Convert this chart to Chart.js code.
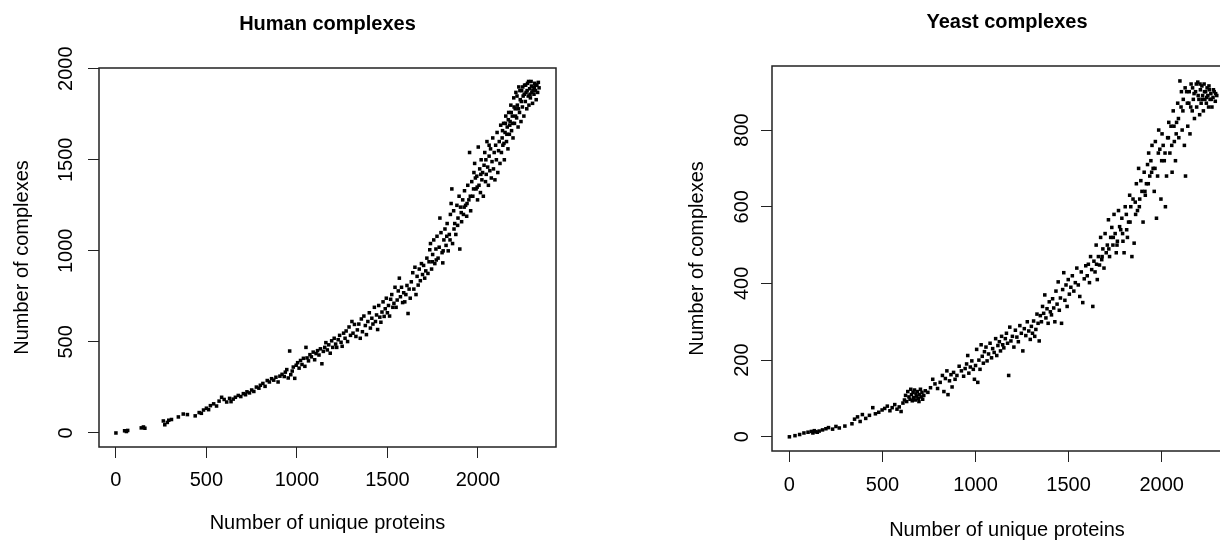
<!DOCTYPE html>
<html>
<head>
<meta charset="utf-8">
<script src="https://cdn.jsdelivr.net/npm/chart.js@4/dist/chart.umd.min.js"></script>
<style>
  html, body { margin: 0; padding: 0; background: #fff; }
  body { position: relative; width: 1220px; height: 540px; overflow: hidden; }
  canvas { position: absolute; top: 0; }
  #humanChart { left: 0; }
  #yeastChart { left: 650px; }
</style>
</head>
<body>
<canvas id="humanChart" width="600" height="540"></canvas>
<canvas id="yeastChart" width="610" height="540"></canvas>
<script>
// tick labels
const xTicks = [0, 500, 1000, 1500, 2000];
const humanYTicks = [0, 500, 1000, 1500, 2000];
const yeastYTicks = [0, 200, 400, 600, 800];

// [unique proteins, complexes]
const humanPoints = [
  [0,0],[48,12],[58,8],[65,14],[140,28],[152,33],[160,26],[262,66],[270,45],[284,58],[292,70],[307,74],
  [345,88],[372,104],[395,101],[438,94],[460,112],[472,108],[484,126],[500,136],[512,128],[522,150],
  [540,160],[556,148],[570,175],[584,196],[598,184],[612,170],[628,190],[636,172],[648,186],[660,196],
  [676,206],[690,200],[704,216],[716,210],[724,226],[738,220],[750,236],[762,228],[776,252],[790,246],
  [798,262],[812,272],[824,256],[836,288],[848,280],
  [860,298],[872,290],[884,306],[896,280],[906,312],[918,322],[930,310],[936,334],[944,348],[952,302],
  [960,450],[966,320],[974,340],[980,362],[988,300],[996,372],[1004,386],[1012,356],[1020,398],[1028,376],
  [1036,410],[1044,366],
  [1050,470],[1056,412],[1064,396],[1072,430],[1080,418],[1090,444],[1098,402],[1106,436],[1114,452],
  [1122,428],[1130,462],[1138,380],[1146,448],[1154,470],[1160,496],[1168,456],[1176,484],[1184,438],
  [1192,506],[1198,470],[1206,520],[1214,488],[1220,470],[1228,512],[1236,536],[1244,498],[1250,476],
  [1258,548],[1266,520],[1272,560],[1280,502],[1288,582],[1296,536],[1304,612],[1310,548],[1318,596],
  [1326,530],[1334,566],[1342,598],[1350,520],
  [1356,626],[1362,556],[1370,642],[1378,590],[1384,540],[1392,612],[1400,660],[1406,576],[1414,630],
  [1420,598],[1428,690],[1434,612],[1440,648],[1446,568],[1452,700],[1458,636],[1464,608],[1470,664],
  [1476,720],[1482,640],[1488,682],[1494,740],[1500,660],[1506,700],[1512,642],[1518,734],[1524,760],
  [1530,690],[1536,712],[1542,800],[1548,690],[1554,730],[1560,780],[1566,850],[1572,748],[1578,800],
  [1584,716],[1590,770],[1596,720],[1602,760],[1608,810],[1614,656],[1620,790],[1626,740],[1632,830],
  [1640,880],[1646,790],[1652,910],
  [1658,760],[1664,860],[1670,812],[1676,900],[1682,836],[1688,930],[1694,870],[1700,920],[1706,850],
  [1712,890],[1718,960],[1724,876],[1730,940],[1734,1006],[1738,1040],[1744,900],[1750,980],[1756,1060],
  [1762,930],[1768,1010],[1774,1080],[1780,960],[1786,1020],[1790,1180],[1796,1100],[1802,990],[1806,934],
  [1812,1060],[1818,1120],[1824,1030],[1830,1150],[1836,1000],[1842,1090],[1848,1200],[1852,1260],
  [1856,1340],[1860,1040],[1866,1220],[1872,1150],[1878,1090],[1884,1250],[1890,1180],[1896,1300],
  [1900,1010],[1904,1240],
  [1910,1160],[1916,1280],[1920,1200],[1926,1330],[1932,1250],[1938,1190],[1944,1360],[1950,1280],
  [1954,1540],[1960,1220],[1966,1380],[1972,1300],[1978,1430],[1982,1480],[1986,1400],[1990,1340],
  [1994,1410],[1998,1280],[2002,1570],[2006,1360],[2010,1450],[2014,1320],[2018,1500],[2022,1390],
  [2026,1430],[2030,1300],[2034,1470],[2038,1540],[2042,1380],[2046,1420],[2050,1600],[2054,1460],
  [2058,1360],[2062,1520],[2066,1440],[2070,1560],[2074,1400],[2078,1490],[2082,1620],[2086,1450],
  [2090,1540],[2094,1390],[2098,1580],[2102,1500],[2106,1650],[2110,1430],[2114,1550],[2118,1600],
  [2122,1480],[2126,1690],
  [2130,1540],[2134,1620],[2138,1580],[2142,1700],[2146,1500],[2150,1650],[2154,1740],[2158,1600],
  [2162,1680],[2166,1560],[2170,1760],[2174,1640],[2178,1710],[2182,1800],[2186,1660],[2190,1740],
  [2194,1620],[2198,1840],[2202,1700],[2206,1780],[2210,1870],[2214,1730],[2218,1800],[2222,1680],
  [2226,1900],[2230,1760],[2234,1830],[2238,1710],[2242,1880],[2246,1790],[2250,1850],[2254,1740],
  [2258,1910],[2262,1820],[2266,1870],[2270,1780],[2274,1920],[2278,1850],[2282,1800],[2286,1890],
  [2290,1840],[2294,1930],[2298,1870],[2302,1810],[2306,1900],[2310,1860],[2314,1920],[2318,1880],
  [2322,1830],[2326,1910],[2330,1870],[2334,1925],[2338,1895],
  [2136,1660],[2144,1590],[2152,1700],[2160,1640],[2168,1720],[2176,1690],[2184,1760],[2192,1700],
  [2200,1790],[2208,1740],[2216,1850],[2224,1780],[2232,1880],[2240,1820],[2248,1900],[2256,1860],
  [2264,1910],[2272,1880],[2280,1930],[2288,1860],[2296,1905],[2304,1880],[2312,1895],[2320,1910],
  [2062,1580],[2044,1500],[2016,1420],[1996,1350],[1976,1340],[1958,1300],[1940,1260],[1924,1240],
  [1908,1210],[1888,1140],[1868,1120],[1846,1060],[1828,1080],[1808,1000],[1770,950],[1748,940]
];

// [unique proteins, complexes]
const yeastPoints = [
  [0,0],[30,3],[55,6],[78,10],[100,12],[118,14],[126,10],[134,16],[142,13],[150,12],[160,15],[178,18],
  [196,21],[210,24],[232,20],[250,27],[268,23],[298,28],[336,34],[350,46],[366,52],[380,40],[392,58],
  [410,48],[430,56],[448,76],[462,60],[480,64],[498,70],[512,74],[526,80],[540,68],[552,76],[566,84],
  [578,72],[590,78],[600,66],[610,88],
  [618,96],[624,108],[630,92],[636,118],[642,104],[648,98],[652,124],[656,110],[660,94],[664,116],
  [668,102],[672,122],[676,96],[680,112],[684,106],[688,118],[692,100],[696,92],[700,110],[704,124],
  [708,104],[712,116],[716,98],[722,108],[730,120],[744,116],[758,128],[770,150],[782,138],[796,126],
  [810,142],
  [822,160],[830,118],[838,152],[846,172],[852,110],[860,146],[868,162],[874,130],[882,168],[890,150],
  [900,160],[912,184],[924,172],[936,158],[944,178],[952,190],[958,212],[964,166],[972,182],[980,198],
  [988,176],[994,150],[1000,186],[1006,228],[1012,142],
  [1018,200],[1024,176],[1030,240],[1036,210],[1042,192],[1048,222],[1056,234],[1062,198],[1070,216],
  [1078,244],[1086,206],[1092,230],[1100,220],[1108,256],[1114,212],[1120,238],[1128,248],[1134,224],
  [1140,262],[1146,240],[1152,232],[1160,256],[1166,270],[1172,244],[1178,160],[1184,286],[1190,250],
  [1198,262],[1206,234],[1214,278],[1222,260],[1230,248],[1238,290],[1246,270],[1254,224],[1262,282],
  [1270,264],[1278,300],[1286,276],[1294,254],
  [1300,288],[1306,270],[1312,302],[1318,262],[1324,280],[1330,320],[1336,296],[1342,250],[1348,316],
  [1354,300],[1360,340],[1366,322],[1372,370],[1378,310],[1384,334],[1390,296],[1396,352],[1402,326],
  [1408,318],[1414,360],[1420,336],[1426,300],[1432,380],[1438,346],[1444,404],[1450,330],[1456,362],
  [1462,296],[1468,384],[1474,428],[1480,356],[1486,396],[1492,340],[1498,410],[1504,372],[1512,390],
  [1520,420],[1528,380],[1536,402],[1544,440],[1552,396],[1560,366],[1568,430],[1576,350],[1584,412],
  [1592,446],[1600,420],
  [1606,450],[1612,402],[1618,470],[1624,436],[1630,340],[1636,458],[1642,430],[1648,500],[1654,410],
  [1660,470],[1666,448],[1672,520],[1678,462],[1684,490],[1690,440],[1696,530],[1702,480],[1708,500],
  [1714,566],[1720,470],[1726,520],[1732,546],[1738,500],[1744,580],[1750,530],[1756,480],[1762,510],
  [1768,590],[1774,548],[1780,540],[1786,570],[1792,510],[1798,480],[1804,600],[1810,580],[1816,520],
  [1822,560],[1828,630],[1834,600],[1840,470],[1846,620],[1852,505],[1858,612],[1864,660],[1870,590],
  [1876,700],[1882,620],[1888,668],[1894,640],[1900,560],
  [1906,690],[1912,630],[1918,660],[1924,710],[1930,740],[1936,680],[1942,720],[1948,760],[1954,700],
  [1960,640],[1966,770],[1972,570],[1978,680],[1984,800],[1990,750],[1996,620],[2002,790],[2008,760],
  [2014,720],[2020,600],[2026,680],[2032,780],[2038,820],[2044,740],[2050,810],[2056,690],[2062,850],
  [2068,770],[2074,720],[2080,820],[2086,870],[2092,780],[2098,928],[2104,860],[2110,800],[2116,880],
  [2122,760],[2128,680],[2134,900],[2140,810],[2146,870],[2152,790],[2158,920],[2164,850],[2170,880],
  [2176,830],[2182,900],[2188,860],[2194,925],[2200,880],
  [2204,840],[2208,905],[2212,870],[2216,915],[2220,890],[2224,850],[2228,920],[2232,880],[2236,900],
  [2240,870],[2244,910],[2248,890],[2252,860],[2256,905],[2260,880],[2264,895],[2270,860],[2276,885],
  [2282,900],[2288,875],[2296,890],
  [2106,900],[2114,850],[2126,910],[2138,870],[2148,900],[2156,860],[2166,910],[2174,895],[2186,920],
  [2196,890],[2206,920],[2218,880],[2230,900],[2242,885],[2254,915],[2266,880],[2278,905],[2290,895],
  [2090,830],[2078,790],[2066,810],[2054,760],[2036,780],[2018,740],[2000,720],[1982,740],[1964,700],
  [1946,690],[1928,660],[1910,640],[1880,600],[1860,580],[1830,560],[1812,540],[1790,530],[1760,500],
  [1740,520],[1716,490],[1680,470],[1650,450]
];

Chart.defaults.font.family = '"Liberation Sans", Arial, sans-serif';
Chart.defaults.color = '#000';

// R style frame: box around the plot region, vertical y tick labels, title centred on the box
const rFrame = {
  id: 'rFrame',
  afterLayout(chart) {
    const t = chart.titleBlock;
    if (t) {
      t.left = chart.chartArea.left;
      t.right = chart.chartArea.right;
    }
  },
  afterDraw(chart, args, opts) {
    const { ctx, chartArea: a } = chart;
    const y = chart.scales.y;
    ctx.save();
    ctx.strokeStyle = '#222';
    ctx.lineWidth = 1.5;
    ctx.strokeRect(a.left, a.top, a.right - a.left, a.bottom - a.top);
    ctx.fillStyle = '#000';
    ctx.font = '20px "Liberation Sans", Arial, sans-serif';
    ctx.textAlign = 'center';
    ctx.textBaseline = 'alphabetic';
    y.ticks.forEach(t => {
      ctx.save();
      ctx.translate(a.left - opts.labelGap, y.getPixelForValue(t.value));
      ctx.rotate(-Math.PI / 2);
      ctx.fillText(String(t.value), 0, 0);
      ctx.restore();
    });
    ctx.restore();
  }
};

const makePlot = (id, title, points, yTicks, yMin, yMax, f) => {
  new Chart(document.getElementById(id), {
    type: 'scatter',
    data: {
      datasets: [{
        data: points.map(([x, y]) => ({ x, y })),
        pointStyle: 'rect',
        pointRadius: 2.5,
        backgroundColor: '#000',
        borderWidth: 0
      }]
    },
    options: {
      responsive: false,
      animation: false,
      layout: { padding: { right: f.padRight } },
      plugins: {
        legend: { display: false },
        tooltip: { enabled: false },
        title: {
          display: true,
          text: title,
          color: '#000',
          font: { size: 20, weight: 'bold', lineHeight: '22px' },
          padding: { top: f.titleTop, bottom: f.titleBottom }
        },
        rFrame: { labelGap: f.labelGap }
      },
      scales: {
        x: {
          type: 'linear',
          position: 'bottom',
          min: -93.5,
          max: 2431.5,
          afterBuildTicks: axis => { axis.ticks = xTicks.map(value => ({ value })); },
          afterFit: axis => { axis.height = f.xAxisHeight; },
          grid: { drawOnChartArea: false, drawTicks: true, tickLength: 11, color: '#222', lineWidth: 1 },
          border: { display: false },
          ticks: { font: { size: 20 }, padding: f.xTickPad, maxRotation: 0, autoSkip: false, callback: v => String(v) },
          title: {
            display: true,
            text: 'Number of unique proteins',
            font: { size: 20, lineHeight: '20px' },
            padding: { top: 0, bottom: f.xTitleBottom }
          }
        },
        y: {
          type: 'linear',
          min: yMin,
          max: yMax,
          afterBuildTicks: axis => { axis.ticks = yTicks.map(value => ({ value })); },
          afterFit: axis => { axis.width = f.yAxisWidth; },
          grid: { drawOnChartArea: false, drawTicks: true, tickLength: 11, color: '#222', lineWidth: 1 },
          border: { display: false },
          ticks: { display: false },
          title: {
            display: true,
            text: 'Number of complexes',
            font: { size: 20, lineHeight: '20px' },
            padding: { top: f.yTitleTop, bottom: 0 }
          }
        }
      }
    },
    plugins: [rFrame]
  });
};

makePlot('humanChart', 'Human complexes', humanPoints, humanYTicks, -77, 2004, {
  padRight: 44, titleTop: 13, titleBottom: 33, labelGap: 27,
  xAxisHeight: 93, xTickPad: 10, xTitleBottom: 7, yAxisWidth: 99, yTitleTop: 12
});

makePlot('yeastChart', 'Yeast complexes', yeastPoints, yeastYTicks, -37, 967, {
  padRight: 18, titleTop: 11, titleBottom: 33, labelGap: 24,
  xAxisHeight: 89, xTickPad: 11, xTitleBottom: 0, yAxisWidth: 122, yTitleTop: 37
});
</script>
</body>
</html>
